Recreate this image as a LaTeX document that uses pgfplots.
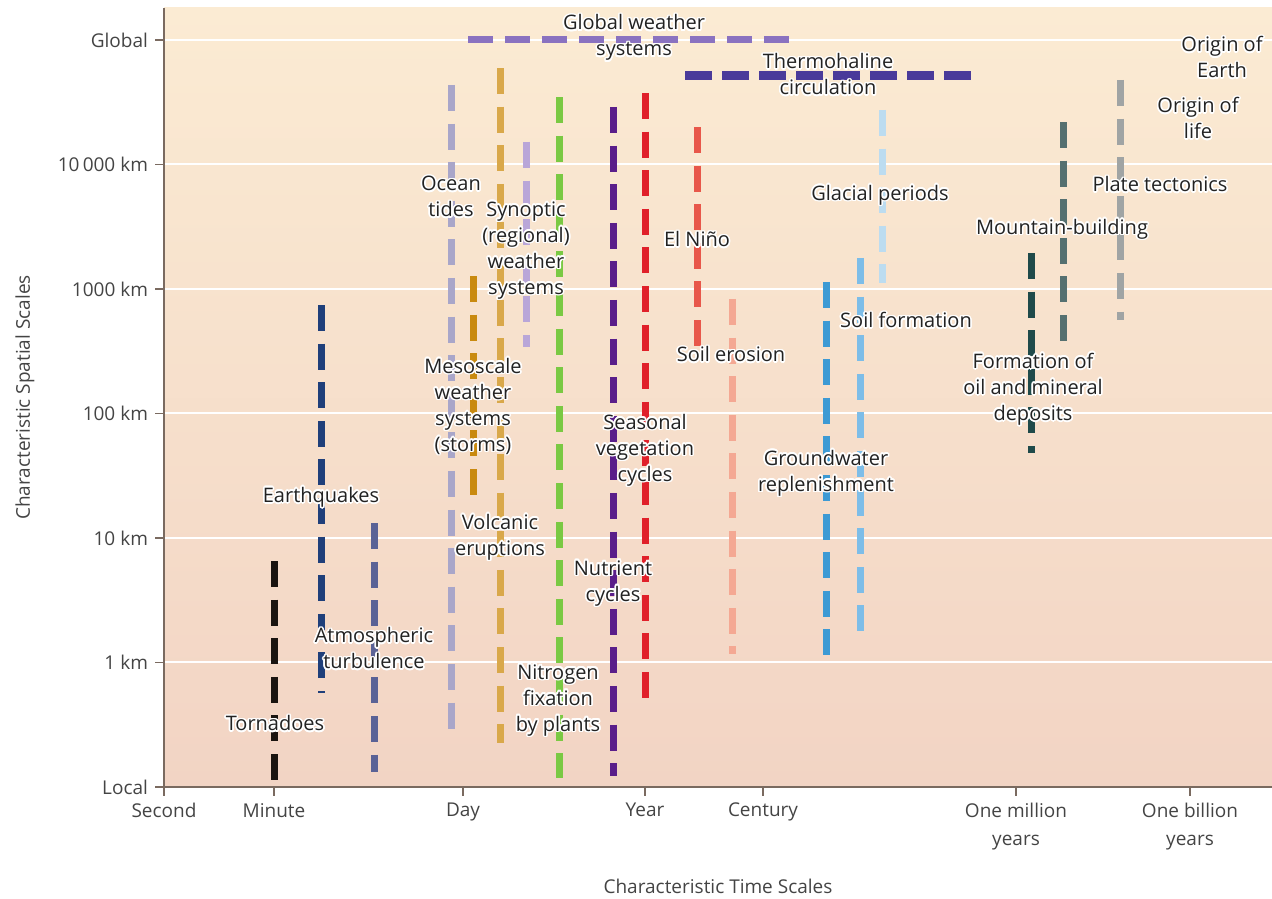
\documentclass[border=0pt]{standalone}
\usepackage{pgfplots}
\pgfplotsset{compat=1.18}
\usepackage{fontspec}
\setmainfont{Open Sans}
\usepackage{contour}
\contourlength{0.8pt}
\newcommand{\hl}[1]{\contour{white}{#1}}
\definecolor{bgtop}{HTML}{FBEBD3}
\definecolor{bgbot}{HTML}{F2D4C4}
\definecolor{spine}{HTML}{7A6A60}
\definecolor{tickc}{HTML}{444444}
\definecolor{labc}{HTML}{222222}
\definecolor{cTor}{HTML}{1A1410}
\definecolor{cEq}{HTML}{1F3F7A}
\definecolor{cAt}{HTML}{5A6296}
\definecolor{cOc}{HTML}{A9A6C9}
\definecolor{cMe}{HTML}{C98A0F}
\definecolor{cVo}{HTML}{D9A84A}
\definecolor{cSy}{HTML}{B9A6D8}
\definecolor{cNi}{HTML}{7AC943}
\definecolor{cNu}{HTML}{5A1E8A}
\definecolor{cSe}{HTML}{E0202A}
\definecolor{cEl}{HTML}{E8574A}
\definecolor{cSo}{HTML}{F4A893}
\definecolor{cGr}{HTML}{3D9AD4}
\definecolor{cSf}{HTML}{7DBDE8}
\definecolor{cGl}{HTML}{BCDCF0}
\definecolor{cOi}{HTML}{1F4A4A}
\definecolor{cMo}{HTML}{557070}
\definecolor{cPl}{HTML}{A0A4A4}
\definecolor{cGw}{HTML}{8A72C0}
\definecolor{cTh}{HTML}{4A3A9A}
\pgfplotsset{vb/.style={line width=3.5pt, dash pattern=on 13pt off 6.3pt, no markers, forget plot}}
\tikzset{lab/.style={font=\fontsize{10}{13}\selectfont, text=labc, align=center, inner sep=0pt}}
\begin{document}
\begin{tikzpicture}
\path[use as bounding box] (0,0) rectangle (636pt,449pt);
\begin{axis}[
  at={(82pt,55.5pt)}, anchor=south west,
  width=554pt, height=389.5pt, scale only axis,
  xmin=164, xmax=1272, ymin=-1, ymax=5.257,
  axis lines*=left,
  axis line style={draw=spine, line width=0.8pt},
  axis background/.style={top color=bgtop, bottom color=bgbot},
  xtick={164,274,463,645,763,1016,1190},
  xticklabels={Second, Minute, Day, Year, Century, {One million\\years}, {One billion\\years}},
  ytick={-1,0,1,2,3,4,5},
  yticklabels={Local, 1 km, 10 km, 100 km, 1000 km, 10\,000 km, Global},
  tick align=outside, major tick length=4.5pt,
  tick style={draw=spine, line width=0.6pt},
  xticklabel style={font=\fontsize{9.5}{14}\selectfont, align=center, text=tickc},
  yticklabel style={font=\fontsize{9.5}{14}\selectfont, text=tickc},
  ymajorgrids, grid style={white, line width=1pt},
  xlabel={Characteristic Time Scales},
  ylabel={Characteristic Spatial Scales},
  xlabel style={at={(axis description cs:0.5,0)}, anchor=center, yshift=-49.5pt, font=\fontsize{9.5}{12}\selectfont, text=tickc},
  ylabel style={at={(axis description cs:0,0.5)}, anchor=center, yshift=69.5pt, font=\fontsize{9.5}{12}\selectfont, text=tickc},
  clip=false,
]
% horizontal
\addplot[vb, draw=cGw, line width=3.5pt, dash pattern=on 12.5pt off 6pt] coordinates {(468,5) (800,5)};
\addplot[vb, draw=cTh, line width=4.5pt, dash pattern=on 13.5pt off 5pt] coordinates {(685,4.711) (973,4.711)};
% vertical bars
\addplot[vb, draw=cTor] coordinates {(274,0.815) (274,-1)};
\addplot[vb, draw=cEq] coordinates {(321,2.871) (321,-0.245)};
\addplot[vb, draw=cAt] coordinates {(374,1.12) (374,-0.88)};
\addplot[vb, draw=cOc] coordinates {(451,4.639) (451,-0.566)};
\addplot[vb, draw=cMe] coordinates {(473,3.104) (473,1.265)};
\addplot[vb, draw=cVo] coordinates {(500,4.775) (500,-0.647)};
\addplot[vb, draw=cSy] coordinates {(526,4.181) (526,2.534)};
\addplot[vb, draw=cNi] coordinates {(559,4.542) (559,-0.928)};
\addplot[vb, draw=cNu] coordinates {(613,4.462) (613,-0.912)};
\addplot[vb, draw=cSe] coordinates {(645,4.574) (645,-0.382)};
\addplot[vb, draw=cEl] coordinates {(697,4.301) (697,2.534)};
\addplot[vb, draw=cSo] coordinates {(732,2.92) (732,0.068)};
\addplot[vb, draw=cGr] coordinates {(826,3.056) (826,-0.02)};
\addplot[vb, draw=cSf] coordinates {(860,3.249) (860,0.237)};
\addplot[vb, draw=cGl] coordinates {(882,4.438) (882,3.048)};
\addplot[vb, draw=cOi] coordinates {(1031,3.289) (1031,1.683)};
\addplot[vb, draw=cMo] coordinates {(1063,4.341) (1063,2.582)};
\addplot[vb, draw=cPl] coordinates {(1120,4.679) (1120,2.751)};
% labels
\node[lab] at (axis cs:634,5.012) {\hl{Global weather}\\\hl{systems}};
\node[lab] at (axis cs:828,4.719) {\hl{Thermohaline}\\\hl{circulation}};
\node[lab] at (axis cs:1222,4.855) {\hl{Origin of}\\\hl{Earth}};
\node[lab] at (axis cs:1198,4.365) {\hl{Origin of}\\\hl{life}};
\node[lab] at (axis cs:1160,3.835) {\hl{Plate tectonics}};
\node[lab] at (axis cs:1062,3.474) {\hl{Mountain-building}};
\node[lab] at (axis cs:880,3.747) {\hl{Glacial periods}};
\node[lab] at (axis cs:697,3.394) {\hl{El Niño}};
\node[lab] at (axis cs:906,2.743) {\hl{Soil formation}};
\node[lab] at (axis cs:731,2.470) {\hl{Soil erosion}};
\node[lab] at (axis cs:1033,2.189) {\hl{Formation of}\\\hl{oil and mineral}\\\hl{deposits}};
\node[lab] at (axis cs:826,1.514) {\hl{Groundwater}\\\hl{replenishment}};
\node[lab] at (axis cs:645,1.699) {\hl{Seasonal}\\\hl{vegetation}\\\hl{cycles}};
\node[lab] at (axis cs:451,3.735) {\hl{Ocean}\\\hl{tides}};
\node[lab] at (axis cs:526,3.305) {\hl{Synoptic}\\\hl{(regional)}\\\hl{weather}\\\hl{systems}};
\node[lab] at (axis cs:473,2.052) {\hl{Mesoscale}\\\hl{weather}\\\hl{systems}\\\hl{(storms)}};
\node[lab] at (axis cs:321,1.321) {\hl{Earthquakes}};
\node[lab] at (axis cs:500,1.0) {\hl{Volcanic}\\\hl{eruptions}};
\node[lab] at (axis cs:613,0.631) {\hl{Nutrient}\\\hl{cycles}};
\node[lab] at (axis cs:374,0.108) {\hl{Atmospheric}\\\hl{turbulence}};
\node[lab] at (axis cs:558,-0.309) {\hl{Nitrogen}\\\hl{fixation}\\\hl{by plants}};
\node[lab] at (axis cs:275,-0.494) {\hl{Tornadoes}};
\end{axis}
\end{tikzpicture}
\end{document}
